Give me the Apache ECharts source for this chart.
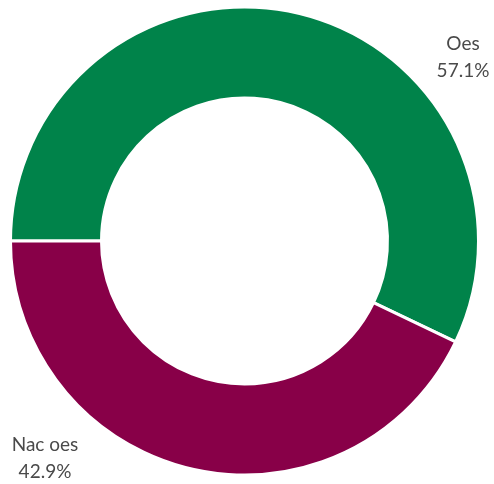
<!DOCTYPE html>
<html>
<head>
<meta charset="utf-8">
<script src="https://cdn.jsdelivr.net/npm/echarts@6/dist/echarts.min.js"></script>
<style>
html, body { margin: 0; padding: 0; background: #fff; }
#donut { width: 494px; height: 484px; }
</style>
</head>
<body>
<div id="donut"></div>
<script>
var labels = ['Oes', 'Nac oes'];
var values = [57.1, 42.9];
var colors = ['#00834A', '#880048'];
// where the two labels sit (label centers)
var labelPos = [[463, 57], [45, 458]];

var chart = echarts.init(document.getElementById('donut'));

var data = [];
for (var i = 0; i < labels.length; i++) {
    data.push({ name: labels[i], value: values[i], itemStyle: { color: colors[i] } });
}

var option = {
    animation: false,
    series: [{
        type: 'pie',
        center: [244.5, 241],
        radius: [143, 234],
        startAngle: 180,
        clockwise: true,
        percentPrecision: 1,
        itemStyle: { borderColor: '#fff', borderWidth: 3 },
        label: {
            show: true,
            position: 'outside',
            formatter: '{b}\n{d}%',
            fontFamily: 'Lato',
            fontSize: 19,
            lineHeight: 27,
            color: '#4a4a4a',
            align: 'center'
        },
        labelLine: { show: false },
        labelLayout: function (params) {
            var p = labelPos[params.dataIndex];
            return { x: p[0], y: p[1], align: 'center', verticalAlign: 'middle' };
        },
        data: data
    }]
};

chart.setOption(option);
</script>
</body>
</html>
